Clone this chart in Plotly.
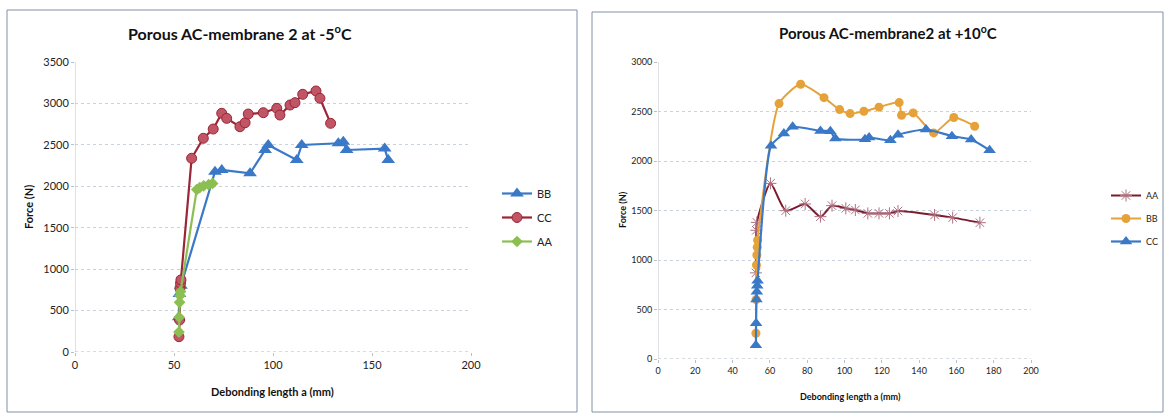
import plotly.graph_objects as go

# ---------------- Left chart data (-5 C) ----------------
L_BB_a = [52.4, 52.7, 53.5, 70.7, 74.1, 88.4, 96.0, 97.6, 112.0, 114.5, 133.0, 135.5, 137.2, 156.4, 158.2]
L_BB_F = [420, 700, 800, 2176, 2197, 2157, 2438, 2498, 2317, 2498, 2519, 2538, 2438, 2455, 2316]

L_CC_a = [52.5, 52.8, 53.0, 53.3, 53.5, 58.9, 64.8, 69.8, 74.1, 76.6, 83.3, 85.9, 87.5, 95.1, 101.9, 103.5,
          108.6, 111.1, 115.0, 121.7, 123.7, 129.1]
L_CC_F = [185, 386, 770, 830, 870, 2338, 2579, 2691, 2881, 2820, 2719, 2767, 2872, 2888, 2941, 2860,
          2981, 3009, 3110, 3150, 3062, 2760]

L_AA_a = [52.5, 52.6, 52.8, 53.0, 53.3, 61.5, 63.0, 65.0, 67.5, 69.5]
L_AA_F = [240, 420, 600, 680, 730, 1960, 1985, 2005, 2020, 2035]

# ---------------- Right chart data (+10 C) ----------------
R_AA_a = [52.5, 52.7, 53.0, 60.3, 68.5, 78.9, 87.1, 93.3, 100.7, 105.8, 112.5, 118.5, 124.1, 128.7, 148.3, 158.0, 172.6]
R_AA_F = [870, 1300, 1380, 1774, 1498, 1566, 1438, 1549, 1522, 1505, 1471, 1471, 1471, 1495, 1455, 1428, 1377]

R_BB_a = [52.5, 52.6, 52.8, 53.0, 53.2, 53.4, 64.9, 76.5, 89.0, 97.4, 103.0, 110.4, 118.5, 129.3, 130.6,
          136.8, 147.8, 158.6, 169.8]
R_BB_F = [260, 600, 950, 1050, 1130, 1200, 2580, 2775, 2640, 2519, 2479, 2502, 2544, 2590, 2462,
          2486, 2284, 2439, 2351]

R_CC_a = [52.5, 52.6, 52.8, 53.0, 53.2, 53.4, 60.6, 67.5, 72.2, 87.1, 92.4, 95.1, 111.0, 113.2, 124.6,
          128.7, 143.7, 157.6, 167.9, 177.8]
R_CC_F = [140, 360, 600, 680, 740, 790, 2153, 2277, 2345, 2304, 2300, 2227, 2220, 2237, 2210,
          2264, 2318, 2251, 2217, 2109]

L_titles = ["Porous AC-membrane 2 at -5<sup>o</sup>C", "Debonding length a (mm)", "Force (N)"]
R_titles = ["Porous AC-membrane2 at +10<sup>o</sup>C", "Debonding length a (mm)", "Force (N)"]

W, H = 1166, 420
def px(x): return x / W
def py(y): return 1 - y / H

BLUE = "#3a78c8"
RED_L = "#9a2636"
RED_M = "#c05565"
GREEN = "#8cbf52"
ORANGE = "#e6a23a"
MAROON = "#7a1a2c"

fig = go.Figure()

# Left traces
fig.add_trace(go.Scatter(x=L_BB_a, y=L_BB_F, name="BB", mode="lines+markers",
                         line=dict(color=BLUE, width=2.2),
                         marker=dict(symbol="triangle-up", size=12, color=BLUE),
                         xaxis="x", yaxis="y", legend="legend", legendgroup="l1"))
fig.add_trace(go.Scatter(x=L_CC_a, y=L_CC_F, name="CC", mode="lines+markers",
                         line=dict(color=RED_L, width=2.2),
                         marker=dict(symbol="circle", size=10, color=RED_M, line=dict(color=RED_L, width=1)),
                         xaxis="x", yaxis="y", legend="legend", legendgroup="l2"))
fig.add_trace(go.Scatter(x=L_AA_a, y=L_AA_F, name="AA", mode="lines+markers",
                         line=dict(color=GREEN, width=2.2),
                         marker=dict(symbol="diamond", size=9, color=GREEN),
                         xaxis="x", yaxis="y", legend="legend", legendgroup="l3"))

# Right traces
fig.add_trace(go.Scatter(x=R_AA_a, y=R_AA_F, name="AA", mode="lines+markers",
                         line=dict(color=MAROON, width=2, shape="spline", smoothing=0.6),
                         marker=dict(symbol="asterisk-open", size=10, color="#b07080", line=dict(color="#b07080", width=1)),
                         xaxis="x2", yaxis="y2", legend="legend2", legendgroup="r1"))
fig.add_trace(go.Scatter(x=R_BB_a, y=R_BB_F, name="BB", mode="lines+markers",
                         line=dict(color=ORANGE, width=2, shape="spline", smoothing=0.6),
                         marker=dict(symbol="circle", size=9, color=ORANGE),
                         xaxis="x2", yaxis="y2", legend="legend2", legendgroup="r2"))
fig.add_trace(go.Scatter(x=R_CC_a, y=R_CC_F, name="CC", mode="lines+markers",
                         line=dict(color=BLUE, width=2.2, shape="spline", smoothing=0.6),
                         marker=dict(symbol="triangle-up", size=11, color=BLUE),
                         xaxis="x2", yaxis="y2", legend="legend2", legendgroup="r3"))

grid = "#c9d3de"
axis_common = dict(showline=False, zeroline=False, showgrid=True, gridcolor=grid, griddash="dot",
                   gridwidth=1, ticks="outside", ticklen=3, tickcolor="#b8c0c8", automargin=False)

fig.update_layout(
    width=W, height=H, margin=dict(l=0, r=0, t=0, b=0, autoexpand=False),
    paper_bgcolor="white", plot_bgcolor="white",
    font=dict(family="Lato, DejaVu Sans, sans-serif", color="#222"),
    xaxis=dict(domain=[px(75), px(471)], range=[0, 200], dtick=50, anchor="y",
               tickfont=dict(size=11), **{**axis_common, "showgrid": False}),
    yaxis=dict(domain=[py(352), py(62)], range=[0, 3500], dtick=500, anchor="x",
               tickfont=dict(size=11), **axis_common),
    xaxis2=dict(domain=[px(658), px(1031)], range=[0, 200], dtick=20, anchor="y2",
                tickfont=dict(size=9), **{**axis_common, "showgrid": False}),
    yaxis2=dict(domain=[py(359), py(62)], range=[0, 3000], dtick=500, anchor="x2",
                tickfont=dict(size=9), **axis_common),
    legend=dict(x=px(497), y=py(179), xanchor="left", yanchor="top", font=dict(size=11),
                bgcolor="rgba(0,0,0,0)", tracegroupgap=5, itemwidth=30),
    legend2=dict(x=px(1106), y=py(181), xanchor="left", yanchor="top", font=dict(size=9),
                 bgcolor="rgba(0,0,0,0)", tracegroupgap=4, itemwidth=30),
    showlegend=True,
)

# axis lines drawn as shapes (left vertical axis and zero baselines)
for xa, ya, top in (("x", "y", 3500), ("x2", "y2", 3000)):
    fig.add_shape(type="line", xref=xa, yref=ya, x0=0, x1=0, y0=0, y1=top,
                  line=dict(color="#c0c8d0", width=1))
    fig.add_shape(type="line", xref=xa, yref=ya, x0=0, x1=200, y0=0, y1=0,
                  line=dict(color="#b0b8c0", width=1, dash="dot"))

# frames
fig.add_shape(type="rect", xref="paper", yref="paper", x0=px(7), x1=px(577), y0=py(412), y1=py(10),
              line=dict(color="#8090a8", width=1))
fig.add_shape(type="rect", xref="paper", yref="paper", x0=px(592), x1=px(1163), y0=py(412), y1=py(12),
              line=dict(color="#8090a8", width=1))

def ann(text, x, y, size, bold=False, angle=0):
    fig.add_annotation(text=text, x=px(x), y=py(y), xref="paper", yref="paper", showarrow=False,
                       textangle=angle, xanchor="center", yanchor="middle",
                       font=dict(size=size, color="#111", weight="bold" if bold else "normal"))

ann(L_titles[0], 240, 33, 16, bold=True)
ann(L_titles[1], 272, 391, 11, bold=True)
ann(L_titles[2], 28, 207, 11, bold=True, angle=-90)

ann(R_titles[0], 888, 33, 15, bold=True)
ann(R_titles[1], 850, 396, 9, bold=True)
ann(R_titles[2], 622, 210, 9, bold=True, angle=-90)

fig.write_html("out.html", config={"displayModeBar": False},
               post_script="document.body.style.margin='0';document.body.style.overflow='hidden';")
